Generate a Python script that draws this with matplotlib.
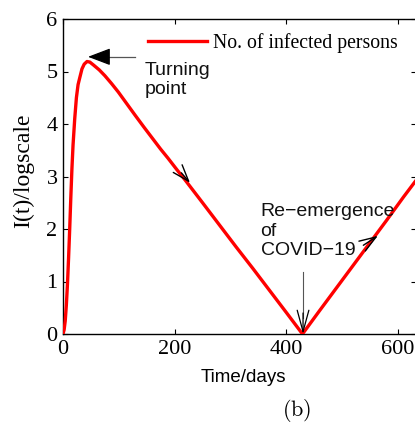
import matplotlib
matplotlib.use("Agg")
import matplotlib.pyplot as plt

# ---- data ----
days = [0, 2, 4, 6, 8, 10, 12, 14, 16, 18, 21, 24, 27, 30, 34, 38, 43, 48, 55,
        65, 75, 87, 99, 114, 129, 145, 160, 175, 188, 204, 219, 250, 280, 310,
        340, 370, 400, 429, 460, 490, 520, 550, 580, 610, 632]
infected_log = [0.0, 0.08, 0.25, 0.55, 0.95, 1.45, 2.0, 2.6, 3.15, 3.6, 4.1, 4.5,
                4.75, 4.88, 5.05, 5.14, 5.19, 5.18, 5.12, 5.03, 4.92, 4.77, 4.61,
                4.39, 4.17, 3.94, 3.73, 3.52, 3.35, 3.13, 2.93, 2.50, 2.08, 1.66,
                1.25, 0.83, 0.41, 0.0, 0.45, 0.88, 1.31, 1.74, 2.17, 2.61, 2.92]
xticks = [0, 200, 400, 600]
yticks = [0, 1, 2, 3, 4, 5, 6]
legend_label = "No. of infected persons"

W, H = 415, 425
fig = plt.figure(figsize=(W / 100, H / 100), dpi=100)
plt.rcParams['mathtext.fontset'] = 'cm'

ax = fig.add_axes([63 / W, (H - 334) / H, 352.8 / W, 315 / H])
ax.plot(days, infected_log, color='#ff0000', lw=2.4, label=legend_label,
        solid_joinstyle='round', zorder=3)
ax.set_xlim(0, 632)
ax.set_ylim(0, 6)
ax.set_xticks(xticks)
ax.set_yticks(yticks)
for s in ax.spines.values():
    s.set_linewidth(1.0)
ax.tick_params(direction='in', length=3.5, width=0.8, top=True, right=True,
               labelsize=16, pad=4)
for lab in ax.get_xticklabels() + ax.get_yticklabels():
    lab.set_family('Liberation Serif')

fig.text(24 / W, 1 - 171 / H, "I(t)/logscale", family='Liberation Serif',
         fontsize=17, rotation=90, ha='center', va='center')

fig.text(243 / W, 1 - 377 / H, "Time/days", family='Liberation Sans', fontsize=13.5,
         ha='center', va='center')
fig.text(297 / W, 1 - 410 / H, r"$\mathrm{(b)}$", fontsize=16, ha='center', va='center')

leg = ax.legend(loc='upper left', bbox_to_anchor=(148 / W, 1 - 33 / H),
                bbox_transform=fig.transFigure, frameon=False, borderpad=0,
                borderaxespad=0, handlelength=3.0, handletextpad=0.3,
                prop={'family': 'Liberation Serif', 'size': 14.2})

# Turning point arrow (filled head)
ax.plot([80, 129], [5.28, 5.28], color='#555555', lw=0.9, zorder=4)
ax.annotate("", xy=(44.8, 5.28), xytext=(80, 5.28),
            arrowprops=dict(arrowstyle='-|>,head_length=1.0,head_width=0.38',
                            color='black', lw=0.9, shrinkA=0, shrinkB=0,
                            mutation_scale=14), zorder=5)
ax.text(147, 5.19, "Turning\npoint", family='Liberation Sans', fontsize=14,
        ha='left', va='top', color='#111111')

# Re-emergence arrow
ax.plot([430, 430], [0.3, 1.18], color='#555555', lw=0.8, zorder=4)
ax.annotate("", xy=(430, 0.0), xytext=(430, 0.4),
            arrowprops=dict(arrowstyle='->,head_length=1.1,head_width=0.3',
                            color='black', lw=0.9, shrinkA=0, shrinkB=0,
                            mutation_scale=14), zorder=5)
ax.text(354, 6 - (203 - 19) / 52.5, "Re\u2212emergence\nof\nCOVID\u221219",
        family='Liberation Sans', fontsize=14, ha='left', va='top', color='#111111')

# direction arrows on the curve
ax.annotate("", xy=(227.5, 2.88), xytext=(212, 3.07),
            arrowprops=dict(arrowstyle='->,head_length=1.0,head_width=0.35',
                            color='black', lw=1.0, shrinkA=0, shrinkB=0,
                            mutation_scale=12), zorder=5)
ax.annotate("", xy=(564, 1.87), xytext=(538, 1.69),
            arrowprops=dict(arrowstyle='->,head_length=1.0,head_width=0.35',
                            color='black', lw=1.0, shrinkA=0, shrinkB=0,
                            mutation_scale=12), zorder=5)

fig.savefig("out.png", dpi=100)
